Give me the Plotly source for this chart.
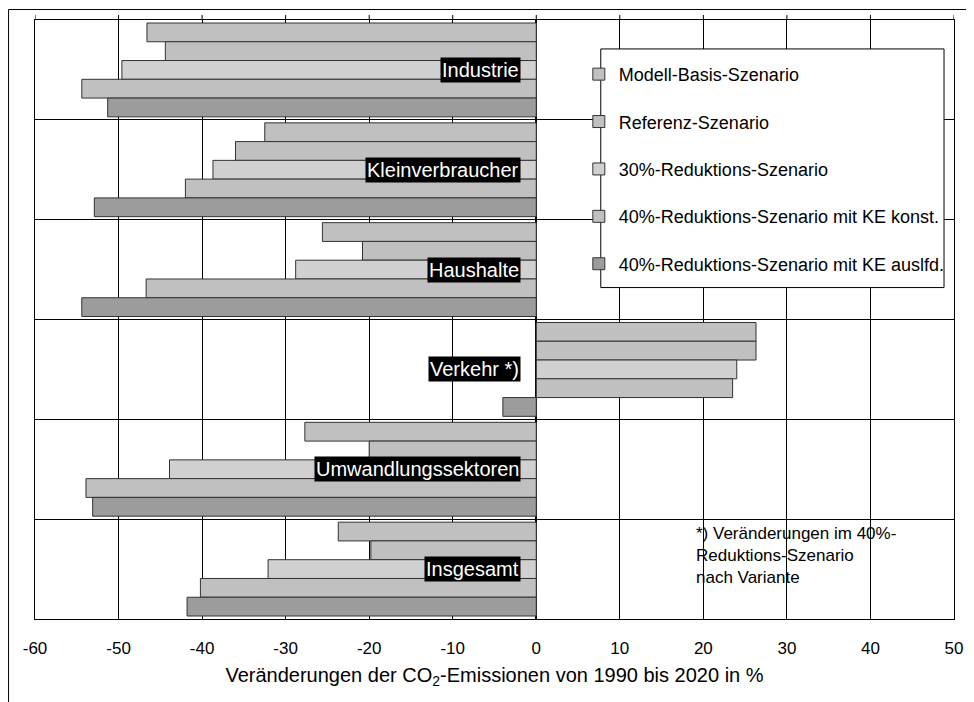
import plotly.graph_objects as go

sectors = ["Industrie", "Kleinverbraucher", "Haushalte", "Verkehr *)",
           "Umwandlungssektoren", "Insgesamt"]
scenarios = ["Modell-Basis-Szenario", "Referenz-Szenario", "30%-Reduktions-Szenario",
             "40%-Reduktions-Szenario mit KE konst.", "40%-Reduktions-Szenario mit KE auslfd."]

basis = [-46.6, -32.5, -25.6, 26.3, -27.7, -23.7]
referenz = [-44.4, -36.0, -20.8, 26.3, -20.0, -19.8]
red30 = [-49.6, -38.7, -28.8, 24.0, -43.9, -32.1]
red40_konst = [-54.4, -42.0, -46.7, 23.5, -53.9, -40.2]
red40_auslfd = [-51.3, -52.9, -54.4, -4.0, -53.1, -41.8]

series = [basis, referenz, red30, red40_konst, red40_auslfd]
colors = ["#c0c0c0", "#c0c0c0", "#d0d0d0", "#c0c0c0", "#9c9c9c"]
xticks = [-60, -50, -40, -30, -20, -10, 0, 10, 20, 30, 40, 50]
xticklabels = ["-60", "-50", "-40", "-30", "-20", "-10", "0", "10", "20", "30", "40", "50"]

font = "Liberation Sans, Arial, sans-serif"

fig = go.Figure()
for name, vals, col in zip(scenarios, series, colors):
    fig.add_trace(go.Bar(
        y=sectors, x=vals, name=name, orientation="h", legendgroup=name,
        marker=dict(color=col, line=dict(color="#333333", width=1)),
    ))

# sector labels, white on black, right-aligned near zero
for s in sectors:
    fig.add_annotation(x=-1.8, y=s, xref="x", yref="y", text=s, showarrow=False,
                       xanchor="right", yanchor="middle", bgcolor="black",
                       font=dict(color="white", size=20, family=font), borderpad=1)

fig.add_annotation(x=(695 - 35) / 921, y=(619 - 522) / 600, xref="paper", yref="paper",
                   text="*) Veränderungen im 40%-<br>Reduktions-Szenario<br>nach Variante",
                   showarrow=False, xanchor="left", yanchor="top", align="left",
                   font=dict(size=17, family=font, color="black"))

shapes = []
# legend frame
shapes.append(dict(type="rect", xref="paper", yref="paper",
                   x0=(602 - 35) / 921, x1=(946 - 35) / 921,
                   y0=(619 - 287) / 600, y1=(619 - 48) / 600,
                   fillcolor="white", line=dict(color="black", width=1), layer="above"))
# small ticks above top frame
for t in xticks:
    shapes.append(dict(type="line", xref="x", yref="paper", x0=t, x1=t, y0=1, y1=1 + 5 / 600,
                       line=dict(color="black", width=1)))
# outer frame (page body has an 8px margin, so the figure starts at page 8,8)
fx = 0.5 - 27
fy = 611 - 0.5
shapes.append(dict(type="line", xref="paper", yref="paper", x0=fx / 921, x1=1.03,
                   y0=fy / 600, y1=fy / 600, line=dict(color="black", width=1)))
shapes.append(dict(type="line", xref="paper", yref="paper", x0=fx / 921, x1=fx / 921,
                   y0=fy / 600, y1=-0.2, line=dict(color="black", width=1)))

fig.update_layout(
    width=966, height=694,
    margin=dict(l=27, r=18, t=11, b=83),
    paper_bgcolor="white", plot_bgcolor="white",
    barmode="group", bargap=0.06, bargroupgap=0,
    font=dict(family=font, color="black"),
    showlegend=True,
    legend=dict(x=(580 - 35) / 921, y=(619 - 55) / 600, xanchor="left", yanchor="top",
                bgcolor="rgba(0,0,0,0)", borderwidth=0, tracegroupgap=21,
                font=dict(size=18, family=font, color="black")),
    shapes=shapes,
)
fig.update_xaxes(range=[-60, 50], tickvals=xticks, ticktext=xticklabels, showgrid=True,
                 gridcolor="black", gridwidth=1, zeroline=True, zerolinecolor="black",
                 zerolinewidth=2, showline=True, linecolor="black", linewidth=1, mirror=True,
                 ticks="", ticklabelstandoff=14, tickfont=dict(size=17),
                 title=dict(text="Veränderungen der CO<sub>2</sub>-Emissionen von 1990 bis 2020 in %",
                            font=dict(size=20), standoff=10))
fig.update_yaxes(autorange="reversed", tickson="boundaries", showgrid=True, gridcolor="black",
                 gridwidth=1, showticklabels=False, ticks="", showline=True, linecolor="black",
                 linewidth=1, mirror=True)

fig.write_html("out.html")
